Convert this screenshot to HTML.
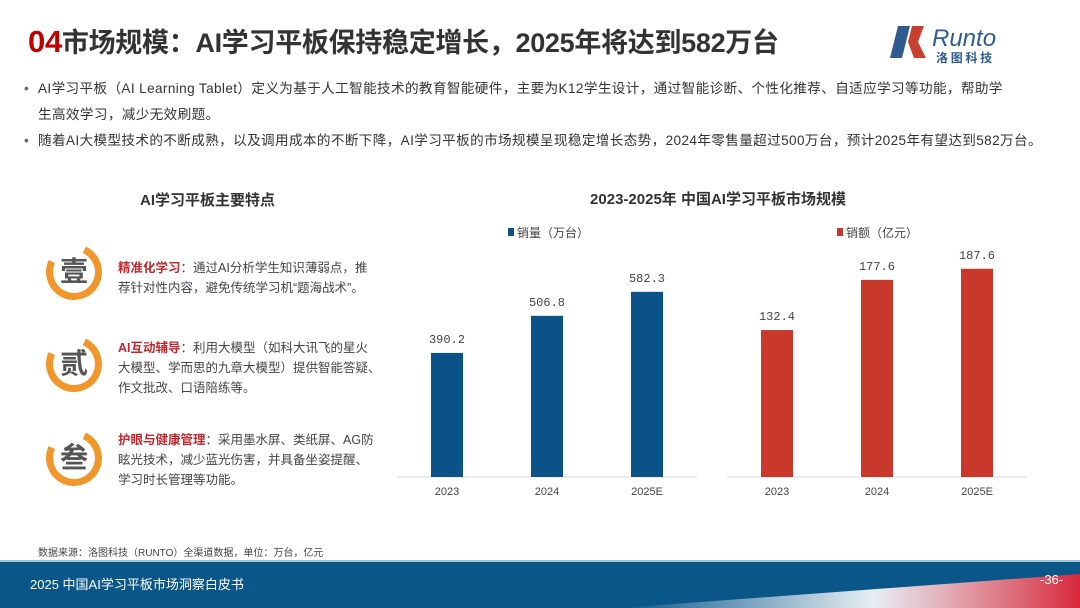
<!DOCTYPE html>
<html><head><meta charset="utf-8">
<style>
*{margin:0;padding:0;box-sizing:border-box}
body{width:1080px;height:608px;overflow:hidden;background:#fff;font-family:"Liberation Sans","Noto Sans CJK SC",sans-serif;color:#333;position:relative}
.abs{position:absolute}
.title{left:28px;top:21px;font-size:27px;font-weight:bold;color:#333;white-space:nowrap;letter-spacing:-0.3px}
.title b{color:#c00000;font-size:31px}
.bul{left:38px;font-size:13.6px;color:#333;line-height:26px;width:1030px;letter-spacing:0.37px;white-space:nowrap}
.bul:before{content:"•";position:absolute;left:-14px;color:#666}
.feat{left:118px;font-size:12.5px;line-height:20px;color:#444;width:258px}
.feat span{color:#c0282d;font-weight:bold}
.circ{width:56px;height:56px;border-radius:50%;border:7px solid #f0962a;border-top-color:transparent;transform:rotate(-20deg);left:46px}
.cc{left:46px;width:56px;height:56px;font-size:28px;font-weight:bold;color:#555;text-align:center;line-height:56px}
</style></head><body>
<div class="abs title"><b>04</b>市场规模：AI学习平板保持稳定增长，2025年将达到582万台</div>
<div class="abs" style="left:888px;top:24px;width:180px;height:40px">
 <svg width="180" height="40"><polygon points="10,2 22,2 14,34 2,34" fill="#2f5b8e"/><polygon points="24,2 36,2 30,18 38,34 26,34 20,18" fill="#c8402f"/>
 <text x="44" y="22" font-size="24" font-style="italic" fill="#2f5b8e" font-family="Liberation Sans">Runto</text>
 <text x="48" y="38" font-size="12" font-weight="bold" fill="#2f5b8e" font-family="Noto Sans CJK SC">洛 图 科 技</text></svg></div>
<svg class="abs" style="left:15px;top:66px" width="1050" height="4"><defs><linearGradient id="dg"><stop offset="0" stop-color="#2f5b8e"/><stop offset="1" stop-color="#e8735a"/></linearGradient></defs><line x1="0" y1="2" x2="1050" y2="2" stroke="url(#dg)" stroke-width="2" stroke-dasharray="7,5"/></svg>
<div class="abs bul" style="top:76px">AI学习平板（AI Learning Tablet）定义为基于人工智能技术的教育智能硬件，主要为K12学生设计，通过智能诊断、个性化推荐、自适应学习等功能，帮助学<br>生高效学习，减少无效刷题。</div>
<div class="abs bul" style="top:128px">随着AI大模型技术的不断成熟，以及调用成本的不断下降，AI学习平板的市场规模呈现稳定增长态势，2024年零售量超过500万台，预计2025年有望达到582万台。</div>
<div class="abs" style="left:140px;top:189px;font-size:15px;font-weight:bold;color:#333">AI学习平板主要特点</div>
<div class="abs circ" style="top:244px"></div><div class="abs cc" style="top:244px">壹</div>
<div class="abs feat" style="top:258px"><span>精准化学习</span>：通过AI分析学生知识薄弱点，推荐针对性内容，避免传统学习机“题海战术”。</div>
<div class="abs circ" style="top:336px"></div><div class="abs cc" style="top:336px">贰</div>
<div class="abs feat" style="top:338px;width:272px"><span>AI互动辅导</span>：利用大模型（如科大讯飞的星火<br>大模型、学而思的九章大模型）提供智能答疑、<br>作文批改、口语陪练等。</div>
<div class="abs circ" style="top:430px"></div><div class="abs cc" style="top:430px">叁</div>
<div class="abs feat" style="top:430px"><span>护眼与健康管理</span>：采用墨水屏、类纸屏、AG防眩光技术，减少蓝光伤害，并具备坐姿提醒、学习时长管理等功能。</div>
<div class="abs" style="left:0;top:188px;width:1080px;text-align:center;padding-left:356px;font-size:15px;font-weight:bold;color:#333">2023-2025年 中国AI学习平板市场规模</div>
<svg class="abs" id="chart" style="left:0;top:0" width="1080" height="560"></svg>
<div class="abs" style="left:38px;top:544px;font-size:10px;color:#444">数据来源：洛图科技（RUNTO）全渠道数据，单位：万台，亿元</div>
<svg class="abs" style="left:0;top:560px" width="1080" height="48"><defs><linearGradient id="fg" x1="0" y1="0" x2="1" y2="0"><stop offset="0" stop-color="#fff" stop-opacity="0"/><stop offset="0.55" stop-color="#fff" stop-opacity="0.9"/><stop offset="1" stop-color="#d8283a"/></linearGradient></defs><rect width="1080" height="48" fill="#0a5689"/><rect width="1080" height="2" fill="#9ec6df"/><polygon points="620,48 1080,14 1080,48" fill="url(#fg)"/></svg>
<div class="abs" style="left:30px;top:574px;font-size:13px;color:#fff">2025 中国AI学习平板市场洞察白皮书</div>
<div class="abs" style="left:1040px;top:572px;font-size:13px;color:#fff">-36-</div>
<script>
const categories=["2023","2024","2025E"];
const volume=[390.2,506.8,582.3];
const revenue=[132.4,177.6,187.6];
const svg=document.getElementById('chart');const NS='http://www.w3.org/2000/svg';
function mk(t,a){const e=document.createElementNS(NS,t);for(const k in a)e.setAttribute(k,a[k]);svg.appendChild(e);return e;}
const base=477;
function panel(vals,x0,x1,color,scale,legend,lx,nm){
 const ax=mk('line',{x1:x0,x2:x1,y1:base,y2:base,stroke:'#d9d9d9','stroke-width':1});
 
 
 const lg=mk('rect',{x:lx,y:228,width:6,height:8,fill:color});
 
 
 const lt=mk('text',{x:lx+9,y:237,'font-size':12,fill:'#444'});lt.textContent=legend;
 
 
 const w=(x1-x0)/categories.length;
 vals.forEach((v,i)=>{
  const cx=x0+w*(i+0.5), h=v*scale;
  const r=mk('rect',{x:cx-16,y:base-h,width:32,height:h,fill:color});
  
  
  const t=mk('text',{x:cx,y:base-h-10,'text-anchor':'middle','font-size':12,fill:'#444','font-family':'Liberation Mono'});t.textContent=v.toFixed(1);
  
  
  const c=mk('text',{x:cx,y:495,'text-anchor':'middle','font-size':11,fill:'#444'});c.textContent=categories[i];
  
  
 });
}
panel(volume,397,697,'#0a5287',0.318,'销量（万台）',508,'volume');
panel(revenue,727,1027,'#c9392b',1.11,'销额（亿元）',837,'revenue');
</script>
</body></html>
